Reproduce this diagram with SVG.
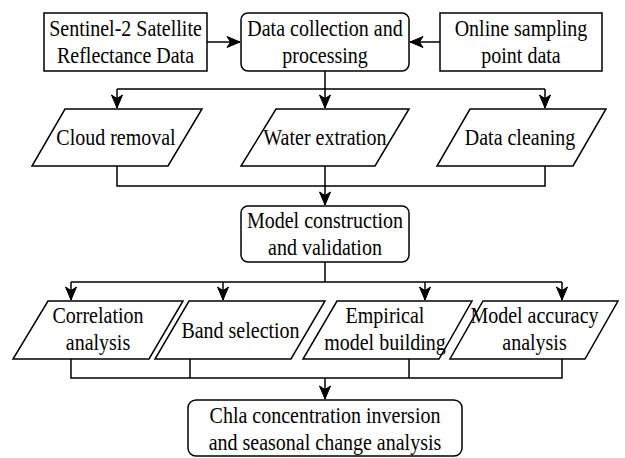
<svg xmlns="http://www.w3.org/2000/svg" width="625" height="458" viewBox="0 0 625 458">
<style>
.n{fill:#fff;stroke:#000;stroke-width:1.5}
.c{fill:none;stroke:#000;stroke-width:1.5}
.t{font-family:'Liberation Serif',serif !important;font-size:20px;fill:#000;text-anchor:middle;transform-box:fill-box;transform-origin:center;transform:scaleY(1.12)}
</style>
<defs>
<marker id="ar" markerUnits="userSpaceOnUse" markerWidth="14" markerHeight="12" refX="13" refY="6" orient="auto" overflow="visible">
<path d="M0,0.5 L13,6 L0,11.5 L3.5,6 Z" fill="#000" stroke="#000" stroke-width="1"/>
</marker>
</defs>
<rect width="625" height="458" fill="#fff"/>
<g id="connectors">
<path class="c" d="M207,42 L240,42" marker-end="url(#ar)"/>
<path class="c" d="M440,42 L410,42" marker-end="url(#ar)"/>
<path class="c" d="M325,71 L325,89 M117,89 L545,89"/>
<path class="c" d="M117,89 L117,108" marker-end="url(#ar)"/>
<path class="c" d="M325,89 L325,108" marker-end="url(#ar)"/>
<path class="c" d="M545,89 L545,108" marker-end="url(#ar)"/>
<path class="c" d="M117,166 L117,186 L545,186 L545,166 M325,166 L325,186"/>
<path class="c" d="M325,186 L325,205" marker-end="url(#ar)"/>
<path class="c" d="M325,262 L325,282 M71,282 L562,282"/>
<path class="c" d="M71,282 L71,300" marker-end="url(#ar)"/>
<path class="c" d="M223,282 L223,300" marker-end="url(#ar)"/>
<path class="c" d="M425,282 L425,300" marker-end="url(#ar)"/>
<path class="c" d="M562,282 L562,300" marker-end="url(#ar)"/>
<path class="c" d="M71,359 L71,378 L562,378 L562,359 M190,359 L190,378 M409,359 L409,378"/>
<path class="c" d="M325,378 L325,399" marker-end="url(#ar)"/>
</g>
<g id="nodes">
<g id="sentinel">
<rect class="n" x="44" y="13" width="163" height="58"/>
<text class="t" style="font-family:'Liberation Serif',serif" x="125.5" y="36.5">Sentinel-2 Satellite<tspan x="125.5" dy="24">Reflectance Data</tspan></text>
</g>
<g id="data-collection">
<rect class="n" x="241" y="13" width="168" height="58" rx="7"/>
<text class="t" style="font-family:'Liberation Serif',serif" x="325" y="36.5">Data collection and<tspan x="325" dy="24">processing</tspan></text>
</g>
<g id="online">
<rect class="n" x="440" y="13" width="162" height="58"/>
<text class="t" style="font-family:'Liberation Serif',serif" x="521" y="36.5">Online sampling<tspan x="521" dy="24">point data</tspan></text>
</g>
<g id="cloud-removal">
<polygon class="n" points="65,109 202,109 168,166 32,166"/>
<text class="t" style="font-family:'Liberation Serif',serif" x="116" y="144.2">Cloud removal</text>
</g>
<g id="water-extration">
<polygon class="n" points="276,109 409,109 375,166 241,166"/>
<text class="t" style="font-family:'Liberation Serif',serif" x="325" y="144.2">Water extration</text>
</g>
<g id="data-cleaning">
<polygon class="n" points="470,109 606,109 573,166 437,166"/>
<text class="t" style="font-family:'Liberation Serif',serif" x="520" y="144.2">Data cleaning</text>
</g>
<g id="model-construction">
<rect class="n" x="241" y="206" width="168" height="56" rx="7"/>
<text class="t" style="font-family:'Liberation Serif',serif" x="325" y="229">Model construction<tspan x="325" dy="24">and validation</tspan></text>
</g>
<g id="correlation">
<polygon class="n" points="48,301 183,301 149,359 13,359"/>
<text class="t" style="font-family:'Liberation Serif',serif" x="98" y="323.6">Correlation<tspan x="98" dy="24">analysis</tspan></text>
</g>
<g id="band-selection">
<polygon class="n" points="189,301 325,301 291,359 155,359"/>
<text class="t" style="font-family:'Liberation Serif',serif" x="240.5" y="337">Band selection</text>
</g>
<g id="empirical">
<polygon class="n" points="337,301 472,301 439,359 303,359"/>
<text class="t" style="font-family:'Liberation Serif',serif" x="385" y="323.6">Empirical<tspan x="385" dy="24">model building</tspan></text>
</g>
<g id="model-accuracy">
<polygon class="n" points="483,301 618,301 585,359 450,359"/>
<text class="t" style="font-family:'Liberation Serif',serif" x="534.5" y="323.6">Model accuracy<tspan x="534.5" dy="24">analysis</tspan></text>
</g>
<g id="chla">
<rect class="n" x="188" y="400" width="274" height="56" rx="8"/>
<text class="t" style="font-family:'Liberation Serif',serif" x="325" y="423.6">Chla concentration inversion<tspan x="325" dy="24">and seasonal change analysis</tspan></text>
</g>
</g>
</svg>
